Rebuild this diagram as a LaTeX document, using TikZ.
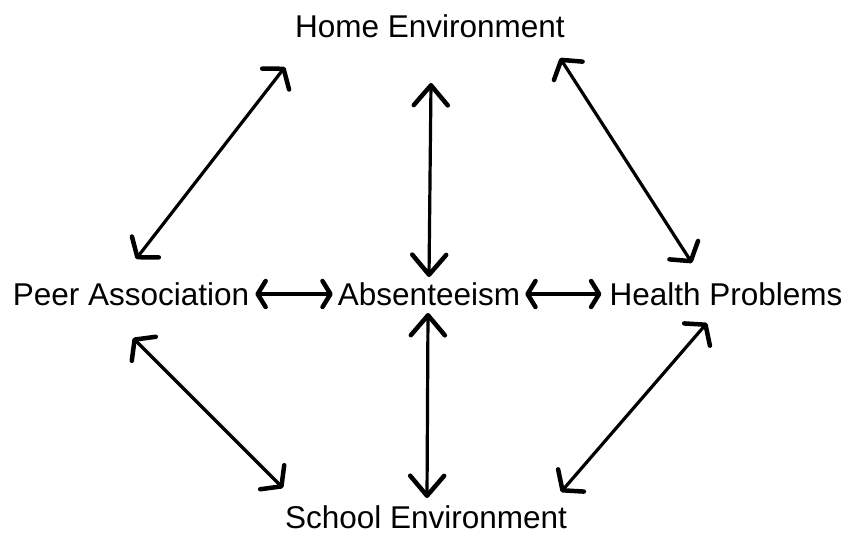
\documentclass[tikz,border=0pt]{standalone}
\usepackage{fontspec}
\setmainfont{Liberation Sans}
\usetikzlibrary{arrows.meta}
\begin{document}
\begin{tikzpicture}[x=1pt,y=-1pt,
  factor/.style={font=\fontsize{31.5}{31.5}\selectfont, inner sep=0pt, anchor=base,
    text height=22pt, text depth=0pt},
  link/.style={line width=3.2pt, line cap=round},
  diag/.style={link,
    {Straight Barb[length=13pt,width=34pt,line width=4.5pt,round]}-{Straight Barb[length=13pt,width=34pt,line width=4.5pt,round]}},
  vert/.style={link,
    {Straight Barb[length=20pt,width=34pt,line width=4.5pt,round]}-{Straight Barb[length=20pt,width=34pt,line width=4.5pt,round]}},
  horz/.style={link,
    {Straight Barb[length=8pt,width=26pt,line width=4.5pt,round]}-{Straight Barb[length=8pt,width=26pt,line width=4.5pt,round]}}
]
\useasboundingbox (0,0) rectangle (848,533);

% factors
\node[factor] (home)   at (430,37)  {Home Environment};
\node[factor] (peer)   at (131,305) {Peer Association};
\node[factor] (abs)    at (429,305) {Absenteeism};
\node[factor] (health) at (726,305) {Health Problems};
\node[factor] (school) at (426,528) {School Environment};

% arrow end points
\coordinate (hp1) at (285,67);  \coordinate (hp2) at (136,259);
\coordinate (ha1) at (431,83);  \coordinate (ha2) at (429,277);
\coordinate (hh1) at (560,58);  \coordinate (hh2) at (692,263);
\coordinate (ps1) at (133,338); \coordinate (ps2) at (283,488);
\coordinate (as1) at (428,313); \coordinate (as2) at (427,498);
\coordinate (hs1) at (707,323); \coordinate (hs2) at (561,492);

% two-way influences
\draw[diag] (hp1) -- (hp2);
\draw[vert] (ha1) -- (ha2);
\draw[diag] (hh1) -- (hh2);
\draw[diag] (ps1) -- (ps2);
\draw[vert] (as1) -- (as2);
\draw[diag] (hs1) -- (hs2);
\draw[horz] ([xshift=6pt]peer.east) -- ([xshift=-5pt]abs.west);
\draw[horz] ([xshift=5pt]abs.east) -- ([xshift=-8pt]health.west);
\end{tikzpicture}
\end{document}
